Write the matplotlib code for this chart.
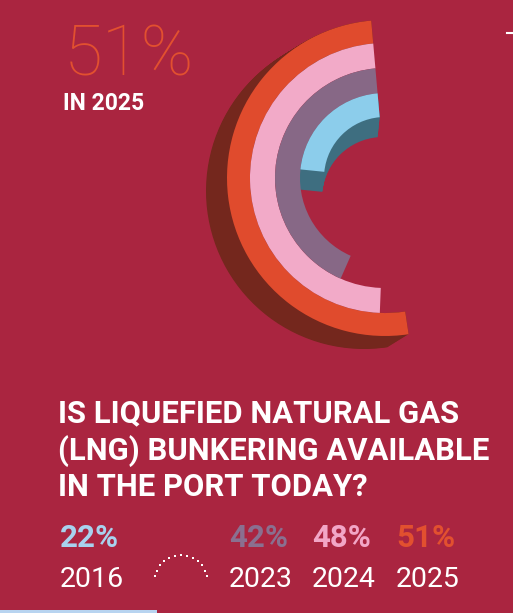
import numpy as np
import matplotlib
matplotlib.use("Agg")
import matplotlib.pyplot as plt
from matplotlib.patches import Wedge, Rectangle

# data
years = ['2016', '2023', '2024', '2025']
shares = [22, 42, 48, 51]
ring_colors = ['#8ccdeb', '#876886', '#f2aac8', '#e04b2d']
label_colors = ['#a8d2ee', '#8a7090', '#f2a6c6', '#e2502f']
question = ['IS LIQUEFIED NATURAL GAS',
            '(LNG) BUNKERING AVAILABLE',
            'IN THE PORT TODAY?']

BG = '#aa2540'
H = 613
narrow = ['Roboto', 'DejaVu Sans']


def Y(y):
    # image row -> data y
    return H - y


fig = plt.figure(figsize=(5.13, 6.13), dpi=100)
fig.patch.set_facecolor(BG)
ax = fig.add_axes([0, 0, 1, 1])
ax.set_xlim(0, 513)
ax.set_ylim(0, H)
ax.set_facecolor(BG)
ax.axis('off')

cx, cy = 385, Y(178)
start = 95
r_in = [61, 85, 110, 135]
width = [24, 25, 25, 23]


def ring(i, dx=0, dy=0, color=None, z=2):
    ext = shares[i] * 3.6
    w = Wedge((cx + dx, cy + dy), r_in[i] + width[i], start, start + ext,
              width=width[i], facecolor=color or ring_colors[i],
              edgecolor='none', zorder=z)
    ax.add_patch(w)


# extruded sides: brown behind the outer ring, teal under the inner ring
for k in np.linspace(0, 1, 30):
    ring(3, -21 * k, -13 * k, '#74271d', 1)
for k in np.linspace(0, 1, 30):
    ring(0, -2 * k, -20 * k, '#3e6e80', 1)

for i in [3, 2, 1, 0]:
    ring(i, z=3 + (3 - i))

# headline
ax.text(64, Y(75), '51%', color='#e2502f', fontsize=51, family=narrow,
        fontweight='light', ha='left', va='baseline')
ax.text(63, Y(110), 'IN 2025', color='white', fontsize=16.5, family=narrow,
        fontweight='bold', ha='left', va='baseline')

# question
for line, yb in zip(question, [422, 460, 496]):
    ax.text(58, Y(yb), line, color='white', fontsize=22.3, family=narrow,
            fontweight='bold', ha='left', va='baseline')

# year row
x_pos = [60, 229, 312, 396]
for yr, s, c, x in zip(years, shares, label_colors, x_pos):
    ax.text(x, Y(547), f'{s}%', color=c, fontsize=22.5, family=narrow,
            fontweight='bold', ha='left', va='baseline')
    ax.text(x, Y(587), yr, color='white', fontsize=20.5, family=narrow,
            ha='left', va='baseline')

# dotted gap marker between 2016 and 2023
t = np.linspace(np.radians(168), np.radians(12), 13)
ax.scatter(181 + 27 * np.cos(t), Y(582) + 27 * np.sin(t), s=4, marker='s',
           color='white', linewidths=0, zorder=5)

# edge bits
ax.add_patch(Rectangle((0, 0), 157, 3, facecolor='#b8d4f0', edgecolor='none'))
ax.plot([507, 513], [Y(33), Y(33)], color='white', lw=1.5)

fig.savefig('out.png', dpi=100, facecolor=BG)
